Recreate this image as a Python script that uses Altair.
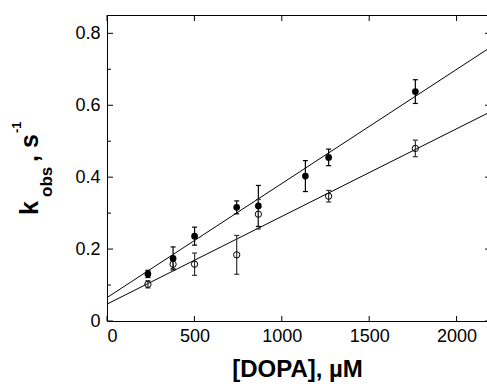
import altair as alt
import pandas as pd

# ---- data ----
dopa_filled = [234, 378, 501, 742, 866, 1135, 1268, 1764]
kobs_filled = [0.131, 0.174, 0.236, 0.316, 0.320, 0.403, 0.455, 0.638]
err_filled = [0.010, 0.032, 0.025, 0.018, 0.057, 0.043, 0.023, 0.033]

dopa_open = [234, 378, 501, 742, 866, 1268, 1764]
kobs_open = [0.102, 0.158, 0.158, 0.184, 0.297, 0.347, 0.480]
err_open = [0.010, 0.012, 0.031, 0.054, 0.041, 0.016, 0.023]

fit_x = [0, 2174]
fit_filled = [0.065, 0.755]
fit_open = [0.047, 0.577]

x_ticks = [0, 500, 1000, 1500, 2000]
y_major = [0, 0.2, 0.4, 0.6, 0.8]
y_minor = [0.1, 0.3, 0.5, 0.7]

X_DOMAIN = [0, 2174]
Y_DOMAIN = [0, 0.851]
W, H = 380, 306
FONT = "Liberation Sans"

filled = pd.DataFrame({"x": dopa_filled, "y": kobs_filled, "e": err_filled})
filled["lo"] = filled.y - filled.e
filled["hi"] = filled.y + filled.e
opn = pd.DataFrame({"x": dopa_open, "y": kobs_open, "e": err_open})
opn["lo"] = opn.y - opn.e
opn["hi"] = opn.y + opn.e
fits = pd.DataFrame({
    "x": fit_x * 2,
    "y": fit_filled + fit_open,
    "s": ["filled"] * 2 + ["open"] * 2,
})

xs = alt.Scale(domain=X_DOMAIN, nice=False, zero=False)
ys = alt.Scale(domain=Y_DOMAIN, nice=False, zero=False)

XAXIS = alt.Axis(
    values=x_ticks, ticks=False, domain=True, domainColor="black", domainWidth=1,
    labelFont=FONT, labelFontSize=18, labelColor="black", labelPadding=6,
    format="d", grid=False, title="[DOPA], µM", titleFont=FONT, titleFontSize=24,
    titleFontWeight="bold", titleColor="black", titlePadding=12)
YAXIS = alt.Axis(
    values=y_major, ticks=False, domain=True, domainColor="black", domainWidth=1,
    labelFont=FONT, labelFontSize=18, labelColor="black", labelPadding=7,
    format=".1~f", grid=False, title=None)

def X(f="x"):
    return alt.X(f"{f}:Q", scale=xs, axis=XAXIS)

def Y(f="y"):
    return alt.Y(f"{f}:Q", scale=ys, axis=YAXIS)

lines = alt.Chart(fits).mark_line(color="black", strokeWidth=1, clip=True).encode(
    x=X(), y=Y(), detail="s:N")

def errbars(df, color):
    bar = alt.Chart(df).mark_rule(color=color, strokeWidth=1.2).encode(
        x=X(), y=Y("lo"), y2="hi:Q")
    cap_lo = alt.Chart(df).mark_rule(color=color, strokeWidth=1.2, xOffset=-2.5, x2Offset=2.5).encode(
        x=X(), x2="x:Q", y=Y("lo"))
    cap_hi = alt.Chart(df).mark_rule(color=color, strokeWidth=1.2, xOffset=-2.5, x2Offset=2.5).encode(
        x=X(), x2="x:Q", y=Y("hi"))
    return bar + cap_lo + cap_hi

pts_filled = alt.Chart(filled).mark_point(shape="circle", filled=True, color="black",
                                          size=45, opacity=1).encode(x=X(), y=Y())
pts_open = alt.Chart(opn).mark_point(shape="circle", filled=False, color="black",
                                     size=40, strokeWidth=1, opacity=1).encode(x=X(), y=Y())

# inward ticks
xt = pd.DataFrame({"x": x_ticks})
ymj = pd.DataFrame({"y": y_major})
ymn = pd.DataFrame({"y": y_minor})
xt_bottom = alt.Chart(xt).mark_rule(color="black", strokeWidth=1).encode(
    x=X(), y=alt.value(H), y2=alt.value(H - 5))
xt_top = alt.Chart(xt).mark_rule(color="black", strokeWidth=1).encode(
    x=X(), y=alt.value(0), y2=alt.value(6))
yt_major = alt.Chart(ymj).mark_rule(color="black", strokeWidth=1).encode(
    y=Y(), x=alt.value(0), x2=alt.value(6))
yt_minor = alt.Chart(ymn).mark_rule(color="black", strokeWidth=1).encode(
    y=Y(), x=alt.value(0), x2=alt.value(4))
yt_right = alt.Chart(ymj).mark_rule(color="black", strokeWidth=1).encode(
    y=Y(), x=alt.value(W - 2), x2=alt.value(W))
top_border = alt.Chart(xt).mark_rule(color="black", strokeWidth=1).encode(
    x=alt.value(0), x2=alt.value(W), y=alt.value(0.5))

# y-axis title with subscript and superscript
def label(txt, x, y, size):
    return alt.Chart(pd.DataFrame({"t": [txt]})).mark_text(
        text=txt, angle=270, align="left", baseline="alphabetic", font=FONT,
        fontSize=size, fontWeight="bold", color="black").encode(
        x=alt.value(x), y=alt.value(y))

ytitle = (label("k", -69, 200, 25) + label("obs", -55, 182, 17)
          + label(", s", -69, 147, 25) + label("-1", -86, 118, 13))

chart = alt.layer(
    lines, errbars(filled, "black"), errbars(opn, "#333333"), pts_filled, pts_open,
    xt_bottom, xt_top, yt_major, yt_minor, yt_right, top_border, ytitle,
).properties(
    width=W, height=H,
    autosize=alt.AutoSizeParams(type="none"),
    padding={"left": 107, "top": 15, "right": 0, "bottom": 67},
    background="white",
).configure_view(stroke=None)

chart.save("out.html", embed_options={"renderer": "svg", "actions": False})
